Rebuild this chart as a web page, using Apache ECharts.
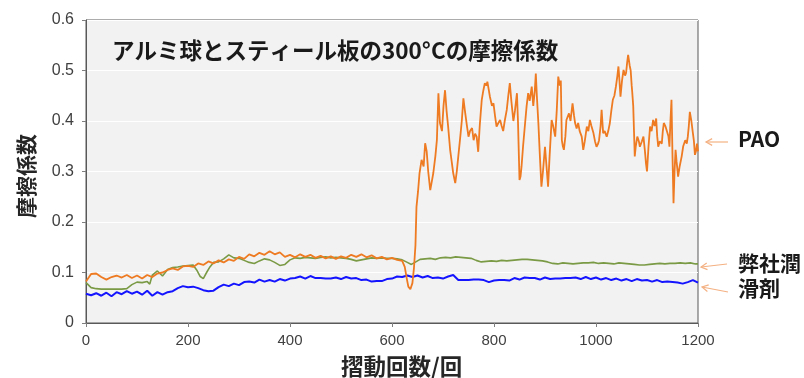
<!DOCTYPE html>
<html><head><meta charset="utf-8">
<script src="https://cdn.jsdelivr.net/npm/echarts@6/dist/echarts.min.js"></script>
<style>html,body{margin:0;padding:0;background:#fff}#c{width:804px;height:378px}</style>
</head><body><div id="c"></div>
<script>
// ---- data (cycles, friction coefficient) ----
const xTicks = [0, 200, 400, 600, 800, 1000, 1200];
const yTicks = [0, 0.1, 0.2, 0.3, 0.4, 0.5, 0.6];
const titleText = 'アルミ球とスティール板の300°Cの摩擦係数';
const xName = '摺動回数/回';
const yName = '摩擦係数';
const labelPAO = 'PAO';
const labelOurs1 = '弊社潤';
const labelOurs2 = '滑剤';

const paoData = [
[0,0.082],[10,0.097],[20,0.098],[30,0.091],[40,0.086],[50,0.091],[60,0.094],[70,0.090],[80,0.095],[90,0.089],
[100,0.094],[110,0.088],[120,0.095],[130,0.091],[140,0.098],[150,0.100],[160,0.105],[170,0.108],[180,0.105],[190,0.112],
[200,0.113],[210,0.111],[220,0.118],[230,0.115],[240,0.122],[250,0.118],[260,0.124],[270,0.120],[280,0.126],[290,0.123],
[300,0.131],[310,0.127],[320,0.136],[330,0.132],[340,0.139],[350,0.135],[360,0.142],[370,0.136],[380,0.140],[390,0.131],
[400,0.135],[410,0.130],[420,0.136],[430,0.131],[440,0.135],[450,0.129],[460,0.133],[470,0.128],[480,0.132],[490,0.127],
[500,0.132],[510,0.129],[520,0.135],[530,0.131],[540,0.136],[550,0.130],[560,0.134],[570,0.128],[580,0.131],[590,0.126],
[600,0.129],[610,0.125],[620,0.123],[625,0.111],[629,0.088],[632,0.072],[636,0.067],[640,0.079],[643,0.108],[646,0.154],
[648,0.230],[651,0.260],[654,0.297],[658,0.323],[662,0.310],[665,0.356],[668,0.340],[671,0.300],[675,0.263],[678,0.280],
[681,0.297],[685,0.330],[688,0.362],[691,0.455],[694,0.396],[698,0.380],[701,0.430],[704,0.461],[707,0.420],[710,0.390],
[714,0.343],[717,0.320],[720,0.297],[724,0.277],[727,0.300],[730,0.330],[734,0.370],[737,0.402],[740,0.445],[743,0.420],
[747,0.390],[750,0.369],[753,0.380],[757,0.386],[760,0.362],[763,0.375],[766,0.369],[769,0.339],[772,0.390],[776,0.442],
[779,0.460],[782,0.475],[785,0.470],[787,0.478],[790,0.460],[792,0.448],[796,0.430],[799,0.435],[802,0.410],[805,0.389],
[808,0.395],[812,0.402],[815,0.390],[818,0.380],[821,0.400],[825,0.422],[828,0.450],[831,0.475],[834,0.440],[838,0.400],
[841,0.420],[845,0.455],[847,0.400],[850,0.283],[852,0.290],[854,0.310],[857,0.350],[861,0.396],[864,0.430],[867,0.455],
[870,0.440],[874,0.468],[877,0.430],[880,0.460],[882,0.494],[884,0.450],[887,0.396],[890,0.330],[893,0.270],[896,0.300],
[900,0.349],[903,0.310],[906,0.270],[909,0.330],[913,0.402],[916,0.390],[920,0.369],[923,0.420],[926,0.488],[929,0.470],
[931,0.480],[933,0.362],[935,0.350],[937,0.343],[940,0.370],[942,0.402],[945,0.400],[947,0.415],[950,0.400],[954,0.435],
[957,0.410],[959,0.396],[962,0.385],[965,0.396],[968,0.380],[972,0.369],[975,0.343],[978,0.360],[982,0.389],[985,0.380],
[988,0.402],[991,0.390],[995,0.376],[998,0.360],[1001,0.349],[1004,0.355],[1006,0.362],[1009,0.390],[1011,0.422],[1014,0.376],
[1017,0.380],[1021,0.369],[1024,0.380],[1027,0.395],[1030,0.420],[1033,0.442],[1036,0.450],[1039,0.468],[1042,0.490],[1044,0.508],
[1046,0.480],[1048,0.448],[1051,0.480],[1054,0.501],[1057,0.490],[1059,0.495],[1061,0.515],[1063,0.531],[1066,0.510],[1068,0.500],
[1070,0.470],[1071,0.458],[1073,0.430],[1076,0.330],[1078,0.350],[1081,0.369],[1084,0.360],[1086,0.349],[1090,0.360],[1093,0.369],
[1096,0.340],[1098,0.316],[1100,0.300],[1103,0.350],[1106,0.389],[1109,0.380],[1112,0.402],[1115,0.390],[1118,0.405],[1120,0.370],
[1122,0.349],[1125,0.360],[1129,0.355],[1131,0.380],[1133,0.396],[1136,0.390],[1139,0.393],[1142,0.370],[1144,0.349],[1146,0.400],
[1148,0.442],[1150,0.330],[1152,0.237],[1154,0.300],[1156,0.343],[1158,0.320],[1161,0.290],[1164,0.310],[1168,0.330],[1171,0.350],
[1175,0.362],[1178,0.355],[1180,0.369],[1182,0.390],[1184,0.418],[1187,0.400],[1190,0.376],[1192,0.360],[1194,0.333],[1196,0.340],
[1198,0.355],[1200,0.340]
];

const oursData = [
[0,0.080],[10,0.070],[20,0.068],[30,0.067],[40,0.067],[50,0.067],[60,0.067],[70,0.067],[80,0.068],[90,0.076],
[100,0.081],[110,0.080],[120,0.082],[125,0.077],[130,0.095],[140,0.103],[150,0.093],[160,0.106],[170,0.110],[180,0.111],
[190,0.113],[200,0.114],[210,0.115],[217,0.105],[224,0.092],[230,0.088],[237,0.101],[243,0.111],[250,0.120],[260,0.121],
[270,0.127],[280,0.135],[290,0.129],[300,0.128],[310,0.124],[320,0.120],[330,0.118],[340,0.123],[350,0.127],[360,0.125],
[370,0.120],[380,0.114],[390,0.116],[400,0.125],[410,0.129],[420,0.128],[430,0.130],[440,0.129],[450,0.128],[460,0.130],
[470,0.131],[480,0.129],[490,0.130],[500,0.129],[510,0.128],[520,0.126],[530,0.123],[540,0.125],[550,0.127],[560,0.129],
[570,0.128],[580,0.129],[590,0.128],[600,0.128],[610,0.127],[620,0.125],[630,0.120],[638,0.116],[645,0.120],[655,0.126],
[665,0.127],[675,0.128],[685,0.126],[695,0.129],[705,0.130],[715,0.129],[725,0.131],[735,0.130],[745,0.129],[755,0.128],
[765,0.124],[775,0.121],[785,0.122],[795,0.123],[805,0.122],[815,0.124],[825,0.123],[835,0.124],[845,0.125],[855,0.126],
[865,0.126],[875,0.125],[885,0.124],[895,0.123],[905,0.121],[915,0.118],[925,0.117],[935,0.119],[945,0.118],[955,0.117],
[965,0.118],[975,0.119],[985,0.119],[995,0.120],[1005,0.118],[1015,0.119],[1025,0.118],[1035,0.117],[1045,0.119],[1055,0.118],
[1065,0.117],[1075,0.116],[1085,0.115],[1095,0.115],[1105,0.116],[1115,0.117],[1125,0.118],[1135,0.117],[1145,0.118],[1155,0.118],
[1165,0.119],[1175,0.118],[1185,0.119],[1195,0.117],[1200,0.117]
];

const blueData = [
[0,0.058],[10,0.055],[20,0.059],[30,0.054],[40,0.060],[50,0.053],[60,0.061],[70,0.057],[80,0.063],[90,0.058],
[100,0.062],[110,0.056],[120,0.064],[130,0.054],[140,0.061],[150,0.056],[160,0.061],[170,0.063],[180,0.069],[190,0.073],
[200,0.071],[210,0.072],[220,0.069],[230,0.065],[240,0.063],[250,0.064],[260,0.071],[270,0.076],[280,0.073],[290,0.078],
[300,0.075],[310,0.081],[320,0.082],[330,0.080],[340,0.086],[350,0.082],[360,0.085],[370,0.082],[380,0.087],[390,0.084],
[400,0.088],[410,0.089],[420,0.092],[430,0.088],[440,0.093],[450,0.089],[460,0.089],[470,0.088],[480,0.088],[490,0.090],
[500,0.087],[510,0.091],[520,0.088],[530,0.089],[540,0.085],[550,0.086],[560,0.082],[570,0.083],[580,0.083],[590,0.087],
[600,0.088],[610,0.092],[620,0.091],[630,0.094],[640,0.091],[650,0.094],[660,0.090],[670,0.093],[680,0.089],[690,0.090],
[700,0.088],[710,0.092],[720,0.095],[730,0.085],[740,0.085],[750,0.085],[760,0.086],[770,0.086],[780,0.085],[790,0.081],
[800,0.084],[810,0.085],[820,0.085],[830,0.084],[840,0.089],[850,0.086],[860,0.090],[870,0.089],[880,0.089],[890,0.086],
[900,0.090],[910,0.087],[920,0.088],[930,0.088],[940,0.089],[950,0.089],[960,0.090],[970,0.087],[980,0.091],[990,0.087],
[1000,0.090],[1010,0.086],[1020,0.089],[1030,0.085],[1040,0.088],[1050,0.084],[1060,0.087],[1070,0.083],[1080,0.087],[1090,0.084],
[1100,0.085],[1110,0.082],[1120,0.085],[1130,0.081],[1140,0.082],[1150,0.081],[1160,0.080],[1170,0.078],[1180,0.081],[1190,0.085],
[1200,0.080]
];

// ---- chart ----
const chart = echarts.init(document.getElementById('c'), null, {renderer: 'canvas'});
const cjk = '"Noto Sans CJK JP", "Noto Sans", sans-serif';
const arrowColor = '#f4b183';

function arrow(x1, y1, x2, y2) { // tail (x1,y1) -> head (x2,y2)
  const a = Math.atan2(y1 - y2, x1 - x2);
  const L = 7, s = 0.5;
  return [
    {type: 'line', shape: {x1: x1, y1: y1, x2: x2, y2: y2}, style: {stroke: arrowColor, lineWidth: 1.2}},
    {type: 'polyline', shape: {points: [
      [x2 + L * Math.cos(a + s), y2 + L * Math.sin(a + s)], [x2, y2],
      [x2 + L * Math.cos(a - s), y2 + L * Math.sin(a - s)]]},
      style: {stroke: arrowColor, lineWidth: 1.2, fill: null}}
  ];
}

const option = {
  animation: false,
  backgroundColor: '#ffffff',
  grid: {left: 86, right: 106, top: 20, bottom: 55, show: true,
    backgroundColor: '#f2f2f2', borderColor: '#595959', borderWidth: 1},
  xAxis: {
    type: 'value', min: xTicks[0], max: xTicks[xTicks.length - 1], interval: 200,
    axisLine: {show: true, lineStyle: {color: '#595959', width: 1}},
    axisTick: {show: true, length: 4, lineStyle: {color: '#7f7f7f'}},
    axisLabel: {color: '#404040', fontSize: 15, margin: 10, fontFamily: '"Liberation Sans", Arial, sans-serif',
      formatter: function (v) { return String(v); }},
    splitLine: {show: false}
  },
  yAxis: {
    type: 'value', min: yTicks[0], max: yTicks[yTicks.length - 1], interval: 0.1,
    axisLine: {show: true, lineStyle: {color: '#595959', width: 1}},
    axisTick: {show: true, length: 4, lineStyle: {color: '#7f7f7f'}},
    axisLabel: {color: '#404040', fontSize: 16, margin: 12, fontFamily: '"Liberation Sans", Arial, sans-serif'},
    splitLine: {show: true, lineStyle: {color: '#ffffff', width: 1}}
  },
  series: [
    {name: labelOurs1 + labelOurs2, type: 'line', data: oursData, showSymbol: false,
      lineStyle: {color: '#7a9a45', width: 1.6}, itemStyle: {color: '#7a9a45'}},
    {name: '滑剤blue', type: 'line', data: blueData, showSymbol: false,
      lineStyle: {color: '#1414ff', width: 2}, itemStyle: {color: '#1414ff'}},
    {name: labelPAO, type: 'line', data: paoData, showSymbol: false,
      lineStyle: {color: '#ee7a22', width: 1.8}, itemStyle: {color: '#ee7a22'}}
  ],
  graphic: [
    {type: 'text', left: 112, top: 39, style: {text: titleText, font: 'bold 22.5px ' + cjk, fill: '#1a1a1a'}},
    {type: 'text', left: 341, top: 355, style: {text: xName, font: 'bold 22.5px ' + cjk, fill: '#262626'}},
    {type: 'text', x: 16, y: 218, rotation: Math.PI / 2, style: {text: yName, font: 'bold 21px ' + cjk, fill: '#262626', textVerticalAlign: 'top'}},
    {type: 'text', left: 738, top: 129, style: {text: labelPAO, font: 'bold 21px ' + cjk, fill: '#1a1a1a'}},
    {type: 'text', left: 738, top: 253, style: {text: labelOurs1, font: 'bold 21px ' + cjk, fill: '#1a1a1a'}},
    {type: 'text', left: 738, top: 278, style: {text: labelOurs2, font: 'bold 21px ' + cjk, fill: '#1a1a1a'}}
  ].concat(arrow(728, 142, 706, 142), arrow(727, 264, 701, 267), arrow(728, 292, 702, 287))
};
chart.setOption(option);
</script>
</body></html>
